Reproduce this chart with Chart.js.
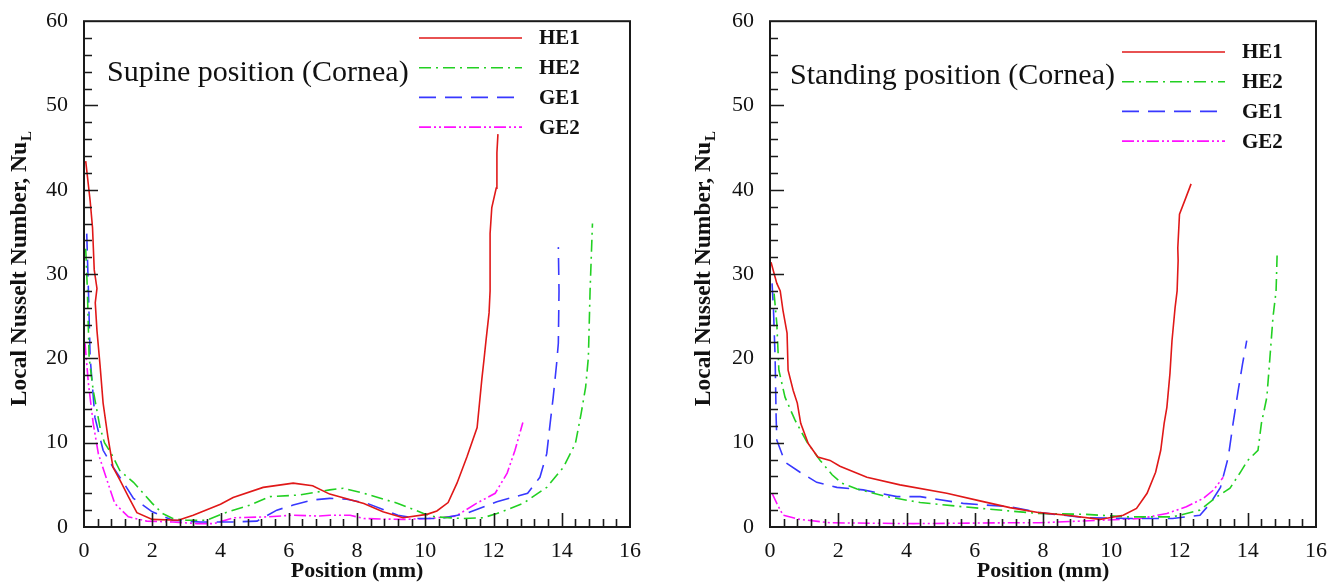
<!DOCTYPE html>
<html>
<head>
<meta charset="utf-8">
<script src="https://cdn.jsdelivr.net/npm/chart.js@4.4.1/dist/chart.umd.min.js"></script>
<style>
  html, body { margin: 0; padding: 0; background: #fff; }
  #wrap { position: relative; width: 1338px; height: 588px; }
  canvas { position: absolute; top: 0; }
</style>
</head>
<body>
<div id="wrap">
  <canvas id="supineChart" width="669" height="588" style="left:0"></canvas>
  <canvas id="standingChart" width="669" height="588" style="left:669px"></canvas>
</div>
<script>
'use strict';

/* --------------------------------------------------------------------------
   DATA — [position (mm), Nu_L] pairs
   -------------------------------------------------------------------------- */
const seriesLabels = ['HE1', 'HE2', 'GE1', 'GE2'];

const supineHE1 = [[0.05,43.4],[0.18,38.7],[0.25,35.5],[0.3,30.5],[0.38,28.3],[0.33,26.6],[0.38,23.3],[0.47,19.2],[0.56,14.7],[0.7,10.7],[0.85,7.1],[1.05,5.6],[1.3,3.6],[1.55,1.7],[2.0,0.9],[2.76,0.8],[3.2,1.4],[4.0,2.7],[4.37,3.5],[5.25,4.7],[6.13,5.2],[6.7,4.9],[7.2,3.9],[8.2,2.8],[8.76,1.8],[9.35,1.1],[10.05,1.5],[10.34,1.9],[10.67,2.9],[10.93,5.2],[11.22,8.3],[11.52,11.8],[11.66,17.6],[11.72,19.8],[11.78,22.1],[11.87,25.4],[11.9,28.0],[11.9,34.8],[11.95,37.9],[12.08,40.2],[12.1,44.4],[12.13,46.6]];
const supineHE2 = [[0.05,33.0],[0.1,28.0],[0.15,20.1],[0.27,16.2],[0.47,11.8],[0.6,10.0],[0.8,8.7],[1.05,6.7],[1.45,5.3],[2.0,2.8],[2.3,1.6],[2.6,1.0],[3.0,0.8],[3.6,0.8],[4.07,1.6],[4.86,2.6],[5.45,3.6],[6.33,3.8],[7.2,4.4],[7.6,4.6],[8.2,4.0],[9.2,2.8],[9.95,1.6],[10.3,1.2],[11.1,1.0],[11.7,1.1],[12.1,1.6],[12.87,2.8],[13.56,4.7],[14.05,7.1],[14.4,9.9],[14.57,13.5],[14.7,16.6],[14.78,20.1],[14.83,28.0],[14.9,36.0]];
const supineGE1 = [[0.08,34.8],[0.13,28.0],[0.18,20.1],[0.32,13.0],[0.56,9.1],[0.82,7.3],[1.15,5.3],[1.45,3.4],[2.0,1.8],[2.6,0.8],[3.4,0.6],[4.37,0.6],[5.07,0.7],[5.65,2.0],[6.13,2.6],[6.7,3.2],[7.2,3.4],[7.7,3.3],[8.3,2.8],[9.2,1.4],[9.76,1.0],[10.43,1.0],[11.2,1.6],[12.1,3.0],[13.0,4.0],[13.36,5.9],[13.56,8.7],[13.66,12.3],[13.75,15.4],[13.85,19.4],[13.9,21.8],[13.92,28.0],[13.9,33.2]];
const supineGE2 = [[0.03,21.8],[0.13,17.0],[0.27,12.3],[0.42,8.7],[0.67,5.6],[0.9,2.8],[1.3,1.2],[1.84,0.7],[2.6,0.6],[3.3,0.4],[3.8,0.4],[4.4,1.1],[5.35,1.2],[6.1,1.4],[6.9,1.3],[7.2,1.4],[7.8,1.4],[8.2,1.0],[9.35,0.9],[10.1,1.0],[10.9,1.3],[11.5,2.8],[12.05,4.0],[12.4,6.4],[12.63,9.1],[12.86,12.4]];

const standingHE1 = [[0.03,31.4],[0.2,28.9],[0.3,28.0],[0.38,25.7],[0.5,23.0],[0.53,18.6],[0.68,16.2],[0.8,14.7],[0.9,12.3],[1.12,9.9],[1.4,8.3],[1.76,7.9],[2.05,7.2],[2.84,5.9],[3.81,5.0],[5.18,4.0],[6.15,3.1],[7.03,2.3],[7.9,1.7],[8.7,1.4],[9.67,0.9],[10.35,1.4],[10.74,2.2],[11.05,4.0],[11.3,6.5],[11.45,9.1],[11.55,12.3],[11.63,14.2],[11.72,18.2],[11.78,22.1],[11.87,26.0],[11.93,28.0],[11.96,31.6],[11.95,33.1],[12.0,37.1],[12.19,39.1],[12.34,40.7]];
const standingHE2 = [[0.12,27.7],[0.2,24.1],[0.26,18.6],[0.44,15.4],[0.73,12.7],[1.08,10.1],[1.47,7.9],[1.82,6.2],[2.1,5.2],[2.55,4.5],[3.43,3.6],[4.4,2.9],[5.66,2.4],[7.03,1.9],[7.9,1.6],[9.27,1.5],[10.45,1.2],[11.8,1.2],[12.6,2.0],[13.1,3.6],[13.48,4.6],[13.77,6.4],[14.0,7.9],[14.3,9.1],[14.4,12.3],[14.56,15.4],[14.65,20.1],[14.74,24.9],[14.83,28.0],[14.86,32.2]];
const standingGE1 = [[0.06,28.9],[0.1,26.0],[0.15,20.1],[0.18,13.0],[0.2,10.3],[0.44,7.7],[0.88,6.5],[1.37,5.3],[1.96,4.7],[2.73,4.4],[3.72,3.6],[4.4,3.6],[5.66,2.8],[7.03,2.4],[7.9,1.7],[9.27,1.1],[10.65,1.0],[11.8,1.0],[12.6,1.4],[12.9,2.8],[13.2,4.7],[13.43,8.3],[13.57,12.3],[13.72,16.2],[13.85,19.4],[13.97,22.1]];
const standingGE2 = [[0.06,4.0],[0.2,2.8],[0.38,1.4],[0.88,0.9],[1.76,0.5],[4.2,0.4],[7.03,0.5],[7.9,0.5],[9.67,0.8],[10.84,1.0],[11.63,1.6],[12.2,2.4],[12.7,3.4],[13.0,4.4],[13.28,5.9]];

/* --------------------------------------------------------------------------
   STYLE
   -------------------------------------------------------------------------- */
const SERIF = '"Liberation Serif", "Times New Roman", serif';
const LINE_STYLES = [
  { color: '#e01818', dash: [] },
  { color: '#22d022', dash: [12, 5, 2, 5] },
  { color: '#3838ff', dash: [17, 9] },
  { color: '#ff10ff', dash: [12, 3, 2, 3, 2, 3] },
];

/* --------------------------------------------------------------------------
   PLUGINS — inside ticks + frame, legend block, caption, y title with subscript
   -------------------------------------------------------------------------- */
const frameTicks = {
  id: 'frameTicks',
  afterDatasetsDraw(chart) {
    const { ctx, chartArea: a, scales: { x, y } } = chart;
    ctx.save();
    ctx.strokeStyle = '#1a1a1a';
    ctx.lineWidth = 1.6;
    ctx.beginPath();
    for (let i = 1; i < 40; i++) {
      const px = Math.round(x.getPixelForValue(i * 0.4)) + 0.5;
      const len = i % 5 === 0 ? 14 : 8;
      ctx.moveTo(px, a.bottom);
      ctx.lineTo(px, a.bottom - len);
    }
    for (let v = 2; v < 60; v += 2) {
      const py = Math.round(y.getPixelForValue(v)) + 0.5;
      const len = v % 10 === 0 ? 14 : 8;
      ctx.moveTo(a.left, py);
      ctx.lineTo(a.left + len, py);
    }
    ctx.stroke();
    ctx.lineWidth = 2;
    ctx.strokeRect(a.left, a.top, a.width, a.height);
    ctx.restore();
  },
};

const insideLegend = {
  id: 'insideLegend',
  afterDatasetsDraw(chart, args, opts) {
    const { ctx } = chart;
    ctx.save();
    ctx.font = 'bold 21px ' + SERIF;
    ctx.textBaseline = 'middle';
    chart.data.datasets.forEach((ds, i) => {
      const yy = opts.y + i * opts.rowH;
      ctx.strokeStyle = ds.borderColor;
      ctx.lineWidth = ds.borderWidth;
      ctx.setLineDash(ds.borderDash || []);
      ctx.beginPath();
      ctx.moveTo(opts.x, yy);
      ctx.lineTo(opts.x + opts.lineLen, yy);
      ctx.stroke();
      ctx.setLineDash([]);
      ctx.fillStyle = '#111';
      ctx.fillText(ds.label, opts.x + opts.lineLen + 17, yy + 1);
    });
    ctx.restore();
  },
};

const caption = {
  id: 'caption',
  afterDatasetsDraw(chart, args, opts) {
    const { ctx } = chart;
    ctx.save();
    ctx.font = '30px ' + SERIF;
    ctx.fillStyle = '#111';
    ctx.textBaseline = 'alphabetic';
    ctx.fillText(opts.text, opts.x, opts.y);
    ctx.restore();
  },
};

const yTitle = {
  id: 'yTitle',
  afterDraw(chart, args, opts) {
    const { ctx, chartArea: a } = chart;
    const main = 'Local Nusselt Number, Nu';
    const sub = 'L';
    ctx.save();
    ctx.fillStyle = '#111';
    ctx.textBaseline = 'middle';
    ctx.font = 'bold 23.5px ' + SERIF;
    const wMain = ctx.measureText(main).width;
    ctx.font = 'bold 15px ' + SERIF;
    const wSub = ctx.measureText(sub).width;
    ctx.translate(opts.x, (a.top + a.bottom) / 2 - 5);
    ctx.rotate(-Math.PI / 2);
    const start = -(wMain + wSub) / 2;
    ctx.font = 'bold 23.5px ' + SERIF;
    ctx.textAlign = 'left';
    ctx.fillText(main, start, 0);
    ctx.font = 'bold 15px ' + SERIF;
    ctx.fillText(sub, start + wMain + 1, 7);
    ctx.restore();
  },
};

/* --------------------------------------------------------------------------
   CHART BUILDER
   -------------------------------------------------------------------------- */
function buildChart(canvasId, series, layout) {
  const ctx = document.getElementById(canvasId).getContext('2d');
  return new Chart(ctx, {
    type: 'scatter',
    data: {
      datasets: series.map((pts, i) => ({
        label: seriesLabels[i],
        data: pts.map(([x, y]) => ({ x, y })),
        showLine: true,
        borderColor: LINE_STYLES[i].color,
        backgroundColor: LINE_STYLES[i].color,
        borderDash: LINE_STYLES[i].dash,
        borderWidth: 1.6,
        pointRadius: 0,
        tension: 0,
      })),
    },
    options: {
      responsive: false,
      animation: false,
      devicePixelRatio: 1,
      layout: { padding: { left: 0, right: layout.padRight, top: 20, bottom: 0 } },
      plugins: {
        legend: { display: false },
        tooltip: { enabled: false },
        insideLegend: layout.legend,
        caption: layout.caption,
        yTitle: { x: layout.yTitleX },
      },
      scales: {
        x: {
          type: 'linear', min: 0, max: 16,
          ticks: { stepSize: 2, padding: 3, color: '#111', font: { family: SERIF, size: 22 } },
          grid: { display: false },
          border: { display: false },
          title: { display: true, text: 'Position (mm)', color: '#111', padding: { top: 0, bottom: 3 }, font: { family: SERIF, size: 22, weight: 'bold' } },
          afterFit: s => { s.height = 61; },
        },
        y: {
          type: 'linear', min: 0, max: 60,
          ticks: { stepSize: 10, padding: 8, color: '#111', font: { family: SERIF, size: 22 } },
          grid: { display: false },
          border: { display: false },
          afterFit: s => { s.width = layout.yWidth; },
        },
      },
    },
    plugins: [frameTicks, insideLegend, caption, yTitle],
  });
}

buildChart('supineChart', [supineHE1, supineHE2, supineGE1, supineGE2], {
  padRight: 39, yWidth: 84, yTitleX: 20,
  legend: { x: 419, y: 38, lineLen: 103, rowH: 29.7 },
  caption: { text: 'Supine position (Cornea)', x: 107, y: 81 },
});

buildChart('standingChart', [standingHE1, standingHE2, standingGE1, standingGE2], {
  padRight: 22, yWidth: 101, yTitleX: 35,
  legend: { x: 453, y: 52, lineLen: 103, rowH: 29.7 },
  caption: { text: 'Standing position (Cornea)', x: 121, y: 84 },
});
</script>
</body>
</html>
